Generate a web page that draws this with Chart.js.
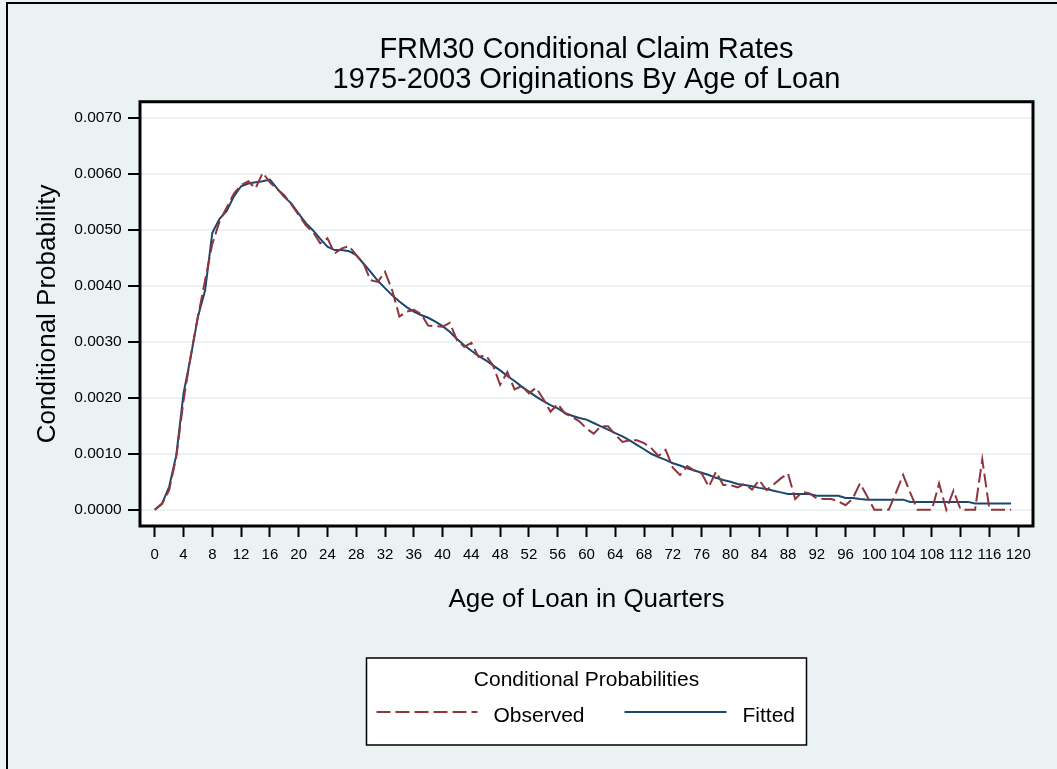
<!DOCTYPE html>
<html>
<head>
<meta charset="utf-8">
<title>FRM30 Conditional Claim Rates</title>
<script src="https://cdn.jsdelivr.net/npm/chart.js@4.4.1/dist/chart.umd.min.js"></script>
<style>
  html, body { margin: 0; padding: 0; background: #EAF2F3; }
  canvas { display: block; }
</style>
</head>
<body>
<canvas id="claims" width="1057" height="769"></canvas>
<script>
// Age of loan in quarters
const quarters = [
  0, 1, 2, 3, 4, 5, 6, 7, 8, 9, 10, 11, 12, 13, 14, 15, 16, 17, 18, 19,
  20, 21, 22, 23, 24, 25, 26, 27, 28, 29, 30, 31, 32, 33, 34, 35, 36, 37, 38, 39,
  40, 41, 42, 43, 44, 45, 46, 47, 48, 49, 50, 51, 52, 53, 54, 55, 56, 57, 58, 59,
  60, 61, 62, 63, 64, 65, 66, 67, 68, 69, 70, 71, 72, 73, 74, 75, 76, 77, 78, 79,
  80, 81, 82, 83, 84, 85, 86, 87, 88, 89, 90, 91, 92, 93, 94, 95, 96, 97, 98, 99,
  100, 101, 102, 103, 104, 105, 106, 107, 108, 109, 110, 111, 112, 113, 114, 115, 116, 117, 118, 119
];

// Observed conditional claim rate by quarter
const observed = [
  0.00000, 0.00010, 0.00035, 0.00095, 0.00195, 0.00275, 0.00345, 0.00410, 0.00475, 0.00515,
  0.00540, 0.00565, 0.00580, 0.00587, 0.00574, 0.00602, 0.00585, 0.00573, 0.00562, 0.00545,
  0.00527, 0.00508, 0.00496, 0.00476, 0.00485, 0.00458, 0.00467, 0.00471, 0.00455, 0.00440,
  0.00410, 0.00407, 0.00425, 0.00392, 0.00345, 0.00354, 0.00357, 0.00350, 0.00329, 0.00328,
  0.00327, 0.00334, 0.00303, 0.00291, 0.00298, 0.00273, 0.00276, 0.00258, 0.00223, 0.00246,
  0.00215, 0.00221, 0.00208, 0.00218, 0.00198, 0.00175, 0.00189, 0.00172, 0.00166, 0.00158,
  0.00145, 0.00136, 0.00149, 0.00149, 0.00134, 0.00121, 0.00124, 0.00124, 0.00119, 0.00110,
  0.00096, 0.00107, 0.00075, 0.00062, 0.00078, 0.00070, 0.00065, 0.00041, 0.00068, 0.00044,
  0.00044, 0.00040, 0.00046, 0.00036, 0.00053, 0.00035, 0.00045, 0.00056, 0.00065, 0.00019,
  0.00032, 0.00029, 0.00020, 0.00019, 0.00019, 0.00015, 0.00008, 0.00020, 0.00047, 0.00024,
  0.00000, 0.00000, 0.00000, 0.00030, 0.00062, 0.00030, 0.00000, 0.00000, 0.00000, 0.00047,
  0.00000, 0.00034, 0.00000, 0.00000, 0.00000, 0.00090, 0.00000, 0.00000, 0.00000, 0.00000
];

// Fitted conditional claim rate by quarter
const fitted = [
  0.00000, 0.00011, 0.00041, 0.00098, 0.00208, 0.00273, 0.00345, 0.00392, 0.00495, 0.00520,
  0.00534, 0.00560, 0.00578, 0.00583, 0.00585, 0.00587, 0.00590, 0.00574, 0.00559, 0.00547,
  0.00529, 0.00512, 0.00499, 0.00484, 0.00470, 0.00464, 0.00464, 0.00462, 0.00455, 0.00440,
  0.00425, 0.00409, 0.00396, 0.00383, 0.00372, 0.00362, 0.00354, 0.00348, 0.00343, 0.00336,
  0.00328, 0.00318, 0.00305, 0.00294, 0.00284, 0.00275, 0.00267, 0.00258, 0.00249, 0.00239,
  0.00230, 0.00220, 0.00211, 0.00202, 0.00194, 0.00187, 0.00181, 0.00173, 0.00168, 0.00164,
  0.00161, 0.00155, 0.00149, 0.00143, 0.00137, 0.00131, 0.00124, 0.00116, 0.00108, 0.00100,
  0.00094, 0.00089, 0.00083, 0.00079, 0.00074, 0.00070, 0.00066, 0.00062, 0.00057, 0.00053,
  0.00050, 0.00046, 0.00044, 0.00042, 0.00039, 0.00037, 0.00034, 0.00031, 0.00028, 0.00028,
  0.00028, 0.00028, 0.00025, 0.00025, 0.00025, 0.00025, 0.00021, 0.00021, 0.00019, 0.00018,
  0.00018, 0.00018, 0.00018, 0.00018, 0.00018, 0.00014, 0.00014, 0.00014, 0.00014, 0.00014,
  0.00014, 0.00014, 0.00014, 0.00014, 0.00011, 0.00011, 0.00011, 0.00011, 0.00011, 0.00011
];

// Axis tick values
const xTicks = [0, 4, 8, 12, 16, 20, 24, 28, 32, 36, 40, 44, 48, 52, 56, 60,
                64, 68, 72, 76, 80, 84, 88, 92, 96, 100, 104, 108, 112, 116, 120];
const yTicks = [0, 0.001, 0.002, 0.003, 0.004, 0.005, 0.006, 0.007];

const titleLines = ['FRM30 Conditional Claim Rates', '1975-2003 Originations By Age of Loan'];
const legendTitle = 'Conditional Probabilities';

const FONT = '"Liberation Sans", Arial, Helvetica, sans-serif';
const BG = '#EAF2F3';
const MAROON = '#90353B';
const NAVY = '#1A476F';

const toPoints = (ys) => quarters.map((q, i) => ({ x: q, y: ys[i] }));

// Page background, white plot region, outer rule lines and plot frame
const framePlugin = {
  id: 'frame',
  beforeDraw(chart) {
    const { ctx, chartArea: a, width, height } = chart;
    ctx.save();
    ctx.fillStyle = BG;
    ctx.fillRect(0, 0, width, height);
    ctx.fillStyle = '#FFFFFF';
    ctx.fillRect(a.left, a.top, a.right - a.left, a.bottom - a.top);
    ctx.strokeStyle = '#000000';
    ctx.lineWidth = 2;
    ctx.beginPath();
    ctx.moveTo(7, height);
    ctx.lineTo(7, 3);
    ctx.lineTo(width, 3);
    ctx.stroke();
    ctx.restore();
  },
  afterDatasetsDraw(chart) {
    const { ctx, chartArea: a } = chart;
    ctx.save();
    ctx.strokeStyle = '#000000';
    ctx.lineWidth = 3;
    ctx.strokeRect(a.left, a.top, a.right - a.left, a.bottom - a.top);
    ctx.restore();
  }
};

// Boxed legend with a title line and two line samples
const boxLegendPlugin = {
  id: 'boxLegend',
  afterDraw(chart) {
    const { ctx, chartArea: a } = chart;
    const cx = (a.left + a.right) / 2;
    const boxW = 440, boxTop = 658, boxH = 87;
    const left = cx - boxW / 2;
    ctx.save();
    ctx.fillStyle = '#FFFFFF';
    ctx.fillRect(left, boxTop, boxW, boxH);
    ctx.strokeStyle = '#000000';
    ctx.lineWidth = 1.5;
    ctx.strokeRect(left, boxTop, boxW, boxH);

    ctx.fillStyle = '#000000';
    ctx.font = '21px ' + FONT;
    ctx.textAlign = 'center';
    ctx.textBaseline = 'alphabetic';
    ctx.fillText(legendTitle, cx, 686);

    const entries = chart.data.datasets;
    const slots = [
      { x0: cx - 210, x1: cx - 109, tx: cx - 93 },
      { x0: cx + 38,  x1: cx + 140, tx: cx + 156 }
    ];
    entries.forEach((ds, i) => {
      const s = slots[i];
      ctx.strokeStyle = ds.borderColor;
      ctx.lineWidth = ds.borderWidth;
      ctx.setLineDash(ds.borderDash || []);
      ctx.beginPath();
      ctx.moveTo(s.x0, 712);
      ctx.lineTo(s.x1, 712);
      ctx.stroke();
      ctx.setLineDash([]);
      ctx.fillStyle = '#000000';
      ctx.textAlign = 'left';
      ctx.fillText(ds.label, s.tx, 721.5);
    });
    ctx.restore();
  }
};

new Chart(document.getElementById('claims'), {
  type: 'line',
  data: {
    datasets: [
      {
        label: 'Observed',
        data: toPoints(observed),
        borderColor: MAROON,
        borderWidth: 2,
        borderDash: [14, 5],
        pointRadius: 0,
        tension: 0,
        fill: false
      },
      {
        label: 'Fitted',
        data: toPoints(fitted),
        borderColor: NAVY,
        borderWidth: 2,
        pointRadius: 0,
        tension: 0,
        fill: false
      }
    ]
  },
  options: {
    responsive: false,
    animation: false,
    devicePixelRatio: 1,
    layout: { padding: { left: 0, right: 24, top: 0, bottom: 143 } },
    plugins: {
      legend: { display: false },
      tooltip: { enabled: false },
      title: {
        display: true,
        text: titleLines,
        fullSize: false,
        color: '#000000',
        font: { family: FONT, size: 29, weight: 'normal', lineHeight: 1.03 },
        padding: { top: 35, bottom: 7 }
      }
    },
    scales: {
      x: {
        type: 'linear',
        min: -2.05,
        max: 122.05,
        afterBuildTicks: (s) => { s.ticks = xTicks.map((v) => ({ value: v })); },
        afterFit: (s) => { s.height = 100; },
        border: { display: false },
        grid: { drawOnChartArea: false, drawTicks: true, tickLength: 11, tickWidth: 2, tickColor: '#000000' },
        ticks: {
          autoSkip: false, maxRotation: 0, minRotation: 0, padding: 8.7,
          color: '#000000', font: { family: FONT, size: 15 },
          callback: (v) => String(v)
        },
        title: {
          display: true, text: 'Age of Loan in Quarters', color: '#000000',
          font: { family: FONT, size: 26, lineHeight: 1.2 },
          padding: { top: 0, bottom: 10.1 }
        }
      },
      y: {
        min: -0.000291,
        max: 0.00729,
        afterBuildTicks: (s) => { s.ticks = yTicks.map((v) => ({ value: v })); },
        afterFit: (s) => { s.width = 140; },
        border: { display: false },
        grid: { color: BG, lineWidth: 2, drawTicks: true, tickLength: 12, tickWidth: 2, tickColor: '#000000' },
        ticks: {
          padding: 6.3, color: '#000000', font: { family: FONT, size: 15.5 },
          callback: (v) => Number(v).toFixed(4)
        },
        title: {
          display: true, text: 'Conditional Probability', color: '#000000',
          font: { family: FONT, size: 26, lineHeight: 1.2 },
          padding: { top: 32.4, bottom: 0 }
        }
      }
    }
  },
  plugins: [framePlugin, boxLegendPlugin]
});
</script>
</body>
</html>
